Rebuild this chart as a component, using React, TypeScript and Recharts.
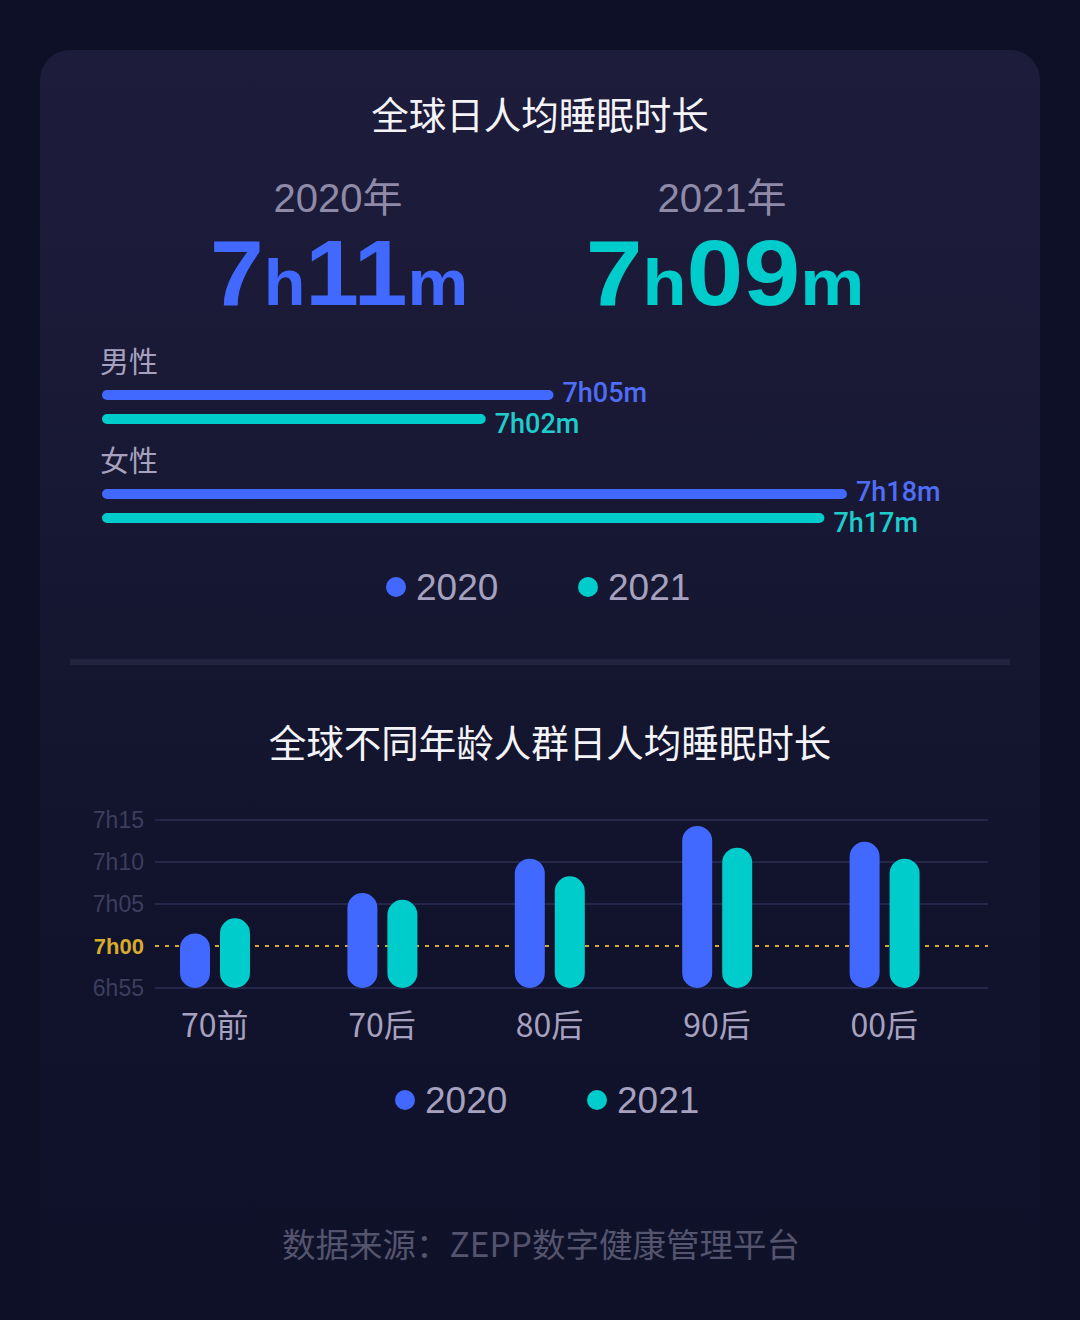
import React from 'react';
import { BarChart, Bar, XAxis, YAxis, CartesianGrid, LabelList } from 'recharts';

// ---------- data ----------
const genderCats = ['男性', '女性'];
const gender2020 = [425, 438]; // minutes: 7h05m, 7h18m
const gender2021 = [422, 437]; // minutes: 7h02m, 7h17m

const ageCats = ['70前', '70后', '80后', '90后', '00后'];
const age2020 = [421.5, 426.3, 430.4, 434.3, 432.4]; // minutes
const age2021 = [423.3, 425.5, 428.3, 431.7, 430.4];
const ageTicks = [415, 420, 425, 430, 435];
const refMinute = 420; // 7h00

const seriesNames = ['2020', '2021'];
const yearTitles = ['2020年', '2021年'];
const overall = [431, 429]; // 7h11m, 7h09m

// ---------- style ----------
const BG = '#0e1027';
const BLUE = '#4169ff';
const TEAL = '#00cccc';
const YELLOW = '#d6ab2e';
const GREY = '#a6a1bf';
const AXIS_GREY = '#3c3e5e';
const GRID = '#25274a';
const LATIN = "'Liberation Sans', Arial, 'Noto Sans CJK SC', sans-serif";
const CJK = "'Noto Sans CJK SC', 'Liberation Sans', sans-serif";

const pad2 = (n: number) => (n < 10 ? '0' + n : '' + n);
const hm = (v: number) => `${Math.floor(v / 60)}h${pad2(Math.round(v) % 60)}`;

const genderData = genderCats.map((g, i) => ({ g, y2020: gender2020[i], y2021: gender2021[i] }));
const ageData = ageCats.map((c, i) => ({ c, y2020: age2020[i], y2021: age2021[i] }));

const genderCatLabel = (props: any) => {
  const { x, y, index } = props;
  return (
    <text x={Number(x) - 2} y={Number(y) - 17} fill={GREY} fontSize={29} fontFamily={CJK}>
      {genderCats[index]}
    </text>
  );
};

const makeGenderLabel = (color: string, dy: number) => (props: any) => {
  const { x, y, width, height, value } = props;
  return (
    <text
      x={Number(x) + Number(width) + 9}
      y={Number(y) + Number(height) / 2 + dy}
      fill={color}
      fontSize={27}
      fontWeight={500}
      fontFamily="Roboto, 'Liberation Sans', sans-serif"
      dominantBaseline="central"
    >
      {hm(Number(value)) + 'm'}
    </text>
  );
};

const AgeYTick = (props: any) => {
  const { y, payload } = props;
  const isRef = payload.value === refMinute;
  return (
    <text
      x={144}
      y={y}
      textAnchor="end"
      dominantBaseline="central"
      fill={isRef ? YELLOW : AXIS_GREY}
      fontSize={isRef ? 22 : 23}
      fontWeight={isRef ? 700 : 400}
      fontFamily={LATIN}
    >
      {hm(payload.value)}
    </text>
  );
};

const AgeXTick = (props: any) => {
  const { x, y, payload } = props;
  return (
    <text x={x} y={y + 35} textAnchor="middle" dominantBaseline="central" fill={GREY} fontSize={32} fontFamily={CJK}>
      {payload.value}
    </text>
  );
};

const BigNumber = ({ x, v, color, sx }: { x: number; v: number; color: string; sx: number }) => {
  const h = Math.floor(v / 60);
  const m = pad2(v % 60);
  return (
    <text
      transform={`translate(${x},305) scale(${sx},1)`}
      x={0}
      y={0}
      textAnchor="middle"
      fill={color}
      fontWeight={700}
      fontFamily={LATIN}
    >
      <tspan fontSize={92}>{h}</tspan>
      <tspan fontSize={65}>h</tspan>
      <tspan fontSize={92}>{m}</tspan>
      <tspan fontSize={65}>m</tspan>
    </text>
  );
};

const LegendItem = ({ cx, cy, color, label }: { cx: number; cy: number; color: string; label: string }) => (
  <g>
    <circle cx={cx} cy={cy} r={10} fill={color} />
    <text x={cx + 20} y={cy + 13} fill={GREY} fontSize={37} fontFamily={LATIN}>
      {label}
    </text>
  </g>
);

export default function App() {
  return (
    <div style={{ position: 'absolute', left: 0, top: 0, width: 1080, height: 1320, background: BG, overflow: 'hidden' }}>
      <div
        style={{
          position: 'absolute',
          left: 40,
          top: 50,
          width: 1000,
          height: 1290,
          borderRadius: 30,
          background: 'linear-gradient(180deg, #1d1c3b 0%, #1a1a37 25%, #14152f 50%, #11122c 70%, #0f1129 100%)',
        }}
      />
      <svg width={1080} height={1320} style={{ position: 'absolute', left: 0, top: 0 }}>
        <text x={540} y={129} textAnchor="middle" fill="#f4f4f8" fontSize={37.5} fontFamily={CJK}>
          全球日人均睡眠时长
        </text>
        <text x={338} y={212} textAnchor="middle" fill="#8f8aa8" fontSize={40} fontFamily={LATIN}>
          {yearTitles[0]}
        </text>
        <text x={722} y={212} textAnchor="middle" fill="#8f8aa8" fontSize={40} fontFamily={LATIN}>
          {yearTitles[1]}
        </text>
        <BigNumber x={339} v={overall[0]} color={BLUE} sx={1.05} />
        <BigNumber x={725} v={overall[1]} color={TEAL} sx={1.11} />

        <LegendItem cx={396} cy={587} color={BLUE} label={seriesNames[0]} />
        <LegendItem cx={588} cy={587} color={TEAL} label={seriesNames[1]} />

        <rect x={70} y={659} width={940} height={6} fill="#22233e" />

        <text x={550} y={757} textAnchor="middle" fill="#f4f4f8" fontSize={37.5} fontFamily={CJK}>
          全球不同年龄人群日人均睡眠时长
        </text>

        <LegendItem cx={405} cy={1100} color={BLUE} label={seriesNames[0]} />
        <LegendItem cx={597} cy={1100} color={TEAL} label={seriesNames[1]} />

        <text x={541} y={1257} textAnchor="middle" fill="#55546e" fontSize={33.5} fontFamily={CJK}>
          数据来源：ZEPP数字健康管理平台
        </text>
      </svg>

      <div style={{ position: 'absolute', left: 0, top: 330 }}>
        <BarChart
          width={1080}
          height={240}
          data={genderData}
          layout="vertical"
          margin={{ top: 27, right: 75, bottom: 15, left: 102 }}
          barGap={14}
        >
          <XAxis type="number" domain={[405, 445]} hide />
          <YAxis type="category" dataKey="g" hide />
          <Bar dataKey="y2020" fill={BLUE} barSize={10} radius={5} isAnimationActive={false}>
            <LabelList dataKey="y2020" content={makeGenderLabel('#4f6df5', -2)} />
            <LabelList dataKey="g" content={genderCatLabel} />
          </Bar>
          <Bar dataKey="y2021" fill={TEAL} barSize={10} radius={5} isAnimationActive={false}>
            <LabelList dataKey="y2021" content={makeGenderLabel('#1fcccc', 5)} />
          </Bar>
        </BarChart>
      </div>

      <div style={{ position: 'absolute', left: 0, top: 800 }}>
        <BarChart
          width={1080}
          height={260}
          data={ageData}
          margin={{ top: 20, right: 92, bottom: 12, left: 0 }}
          barGap={10}
        >
          <CartesianGrid
            vertical={false}
            horizontalValues={ageTicks.filter((t) => t !== refMinute)}
            stroke={GRID}
            strokeWidth={2}
          />
          <CartesianGrid vertical={false} horizontalValues={[refMinute]} stroke={YELLOW} strokeWidth={2} strokeDasharray="4 6" />
          <XAxis
            dataKey="c"
            axisLine={false}
            tickLine={false}
            tickSize={0}
            tickMargin={0}
            height={60}
            padding={{ left: -24, right: 20 }}
            tick={<AgeXTick />}
            interval={0}
          />
          <YAxis
            type="number"
            domain={[415, 435]}
            ticks={ageTicks}
            interval={0}
            width={155}
            axisLine={false}
            tickLine={false}
            tick={<AgeYTick />}
            allowDataOverflow
          />
          <Bar dataKey="y2020" fill={BLUE} barSize={30} radius={15} isAnimationActive={false} />
          <Bar dataKey="y2021" fill={TEAL} barSize={30} radius={15} isAnimationActive={false} />
        </BarChart>
      </div>
    </div>
  );
}
